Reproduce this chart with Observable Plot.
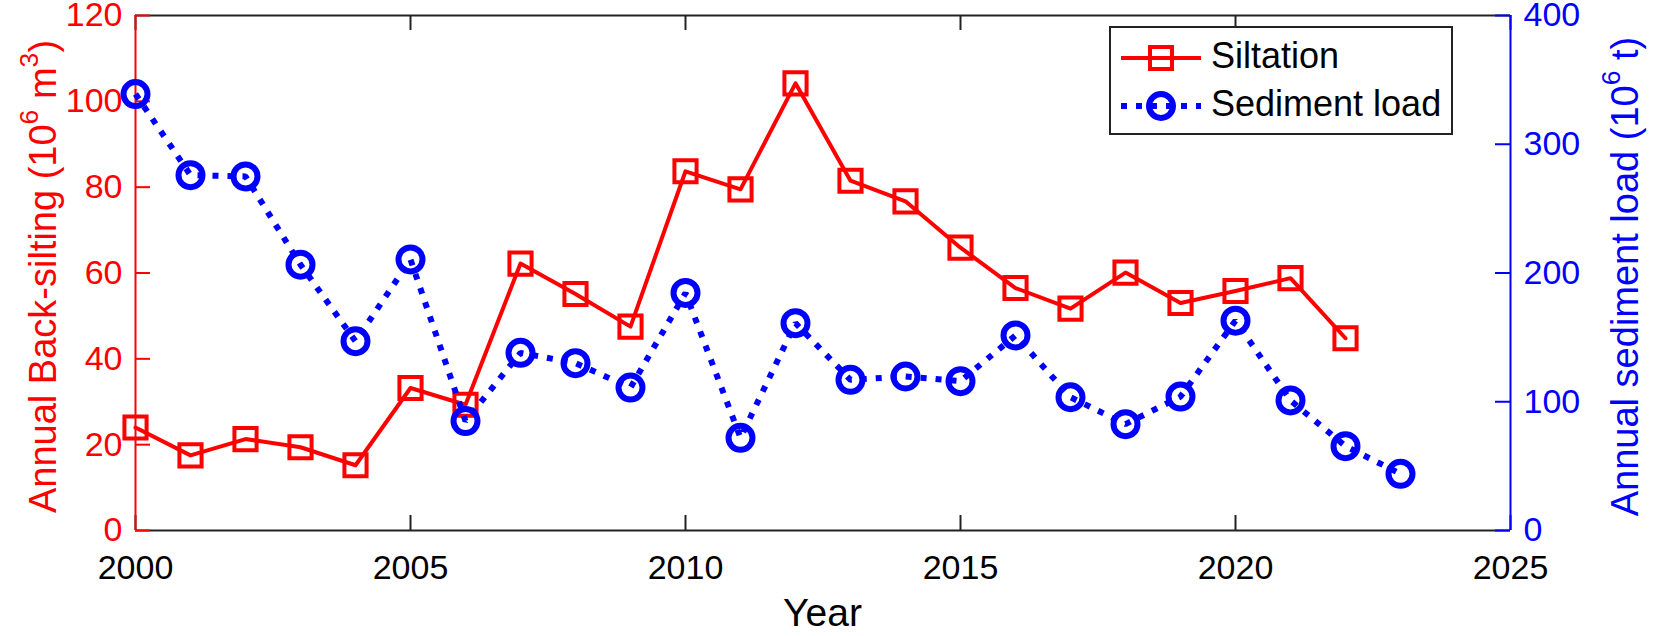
<!DOCTYPE html>
<html>
<head>
<meta charset="utf-8">
<script src="https://cdn.jsdelivr.net/npm/d3@7"></script>
<script src="https://cdn.jsdelivr.net/npm/@observablehq/plot@0.6"></script>
<style>
  html, body { margin: 0; padding: 0; background: #fff; }
  #chart { position: relative; width: 1654px; height: 636px; }
  #chart svg { position: absolute; left: 0; top: 0; }
</style>
</head>
<body>
<div id="chart"></div>
<script>
// ---- data ----
const siltYears = [2000,2001,2002,2003,2004,2005,2006,2007,2008,2009,2010,2011,2012,2013,2014,2015,2016,2017,2018,2019,2020,2021,2022];
const siltation = [24, 17.5, 21.3, 19.4, 15.2, 33.2, 29.3, 62.2, 55.1, 47.5, 83.7, 79.5, 104.2, 81.5, 76.7, 65.9, 56.5, 51.7, 60.1, 53.0, 55.8, 58.8, 44.8];
const sedYears = [2000,2001,2002,2003,2004,2005,2006,2007,2008,2009,2010,2011,2012,2013,2014,2015,2016,2017,2018,2019,2020,2021,2022,2023];
const sediment = [339, 276, 275, 206.5, 147, 210.5, 85, 138, 130, 111, 184.5, 72, 161, 117, 119.6, 116, 151.5, 103.5, 82.6, 104, 163, 101, 65.5, 44];
const xTicks = [2000, 2005, 2010, 2015, 2020, 2025];
const leftTicks = [0, 20, 40, 60, 80, 100, 120];
const rightTicks = [0, 100, 200, 300, 400];
const seriesNames = ["Siltation", "Sediment load"];

const siltData = siltYears.map((year, i) => ({year, value: siltation[i]}));
const sedData = sedYears.map((year, i) => ({year, value: sediment[i]}));

// ---- layout ----
const W = 1654, H = 636;
const mL = 135, mR = 144, mT = 15, mB = 106;
const pW = W - mL - mR, pH = H - mT - mB;
const RED = "#ff0000", BLUE = "#0000ff", BLACK = "#222";
const FONT = "Liberation Sans, Arial, Helvetica, sans-serif";
const FS = 34;      // tick labels
const FS_T = 38;    // axis titles
const FS_L = 36;    // legend
const TICK = 15;
const DASH = "6,9";

const common = {
  width: W, height: H,
  marginLeft: mL, marginRight: mR, marginTop: mT, marginBottom: mB,
  style: {fontFamily: FONT, fontSize: FS + "px", background: "transparent", overflow: "visible"}
};

const p1 = Plot.plot({
  ...common,
  x: {domain: [2000, 2025], axis: null},
  y: {domain: [0, 120], axis: null},
  marks: [
    Plot.ruleY([0, 120], {stroke: BLACK, strokeWidth: 2}),
    Plot.tickX(xTicks, {x: d => d, stroke: BLACK, strokeWidth: 2, insetTop: pH - TICK}),
    Plot.tickX(xTicks, {x: d => d, stroke: BLACK, strokeWidth: 2, insetBottom: pH - TICK}),
    Plot.ruleX([2000], {stroke: RED, strokeWidth: 2}),
    Plot.tickY(leftTicks, {y: d => d, stroke: RED, strokeWidth: 2, insetRight: pW - TICK}),
    Plot.axisX(xTicks, {anchor: "bottom", tickSize: 0, tickPadding: 24, color: "#000", fontSize: FS, label: null, tickFormat: d => String(d)}),
    Plot.axisY(leftTicks, {anchor: "left", tickSize: 0, tickPadding: 13, color: RED, fontSize: FS, label: null}),
    Plot.line(siltData, {x: "year", y: "value", stroke: RED, strokeWidth: 4}),
    Plot.dot(siltData, {x: "year", y: "value", symbol: "square", r: 12.5, stroke: RED, strokeWidth: 4, fill: "none"})
  ]
});

const p2 = Plot.plot({
  ...common,
  x: {domain: [2000, 2025], axis: null},
  y: {domain: [0, 400], axis: null},
  marks: [
    Plot.ruleX([2025], {stroke: BLUE, strokeWidth: 2}),
    Plot.tickY(rightTicks, {y: d => d, stroke: BLUE, strokeWidth: 2, insetLeft: pW - TICK}),
    Plot.axisY(rightTicks, {anchor: "right", tickSize: 0, tickPadding: 13, color: BLUE, fontSize: FS, label: null}),
    Plot.line(sedData, {x: "year", y: "value", stroke: BLUE, strokeWidth: 6, strokeDasharray: DASH, strokeLinecap: "butt", strokeLinejoin: "miter"}),
    Plot.dot(sedData, {x: "year", y: "value", r: 12, stroke: BLUE, strokeWidth: 6, fill: "none"})
  ]
});

const chart = document.getElementById("chart");
chart.appendChild(p1);
chart.appendChild(p2);

// ---- axis titles & legend (overlay) ----
const ov = d3.select(chart).append("svg")
  .attr("width", W).attr("height", H)
  .style("font-family", FONT);

function sup(t, txt) { t.append("tspan").attr("baseline-shift", "super").attr("font-size", "0.7em").text(txt); }

const lt = ov.append("text")
  .attr("transform", `translate(46,${mT + pH / 2 + 4}) rotate(-90)`)
  .attr("text-anchor", "middle").attr("dominant-baseline", "middle")
  .attr("fill", RED).attr("font-size", FS_T);
lt.append("tspan").text("Annual Back-silting (10");
sup(lt, "6");
lt.append("tspan").text(" m");
sup(lt, "3");
lt.append("tspan").text(")");

const rt = ov.append("text")
  .attr("transform", `translate(1628,${mT + pH / 2 + 4}) rotate(-90)`)
  .attr("text-anchor", "middle").attr("dominant-baseline", "middle")
  .attr("fill", BLUE).attr("font-size", FS_T);
rt.append("tspan").text("Annual sediment load (10");
sup(rt, "6");
rt.append("tspan").text(" t)");

ov.append("text")
  .attr("x", mL + pW / 2).attr("y", 626)
  .attr("text-anchor", "middle").attr("fill", "#000").attr("font-size", 39)
  .text("Year");

// legend
const lg = ov.append("g");
lg.append("rect").attr("x", 1110).attr("y", 27).attr("width", 342).attr("height", 107)
  .attr("fill", "#fff").attr("stroke", BLACK).attr("stroke-width", 2);
// entry 1
lg.append("line").attr("x1", 1121).attr("x2", 1201).attr("y1", 58).attr("y2", 58)
  .attr("stroke", RED).attr("stroke-width", 4);
lg.append("rect").attr("x", 1161 - 11).attr("y", 58 - 11).attr("width", 22).attr("height", 22)
  .attr("fill", "none").attr("stroke", RED).attr("stroke-width", 4);
lg.append("text").attr("x", 1211).attr("y", 58).attr("dominant-baseline", "middle")
  .attr("font-size", FS_L).attr("fill", "#000").text(seriesNames[0]);
// entry 2
lg.append("line").attr("x1", 1121).attr("x2", 1201).attr("y1", 106).attr("y2", 106)
  .attr("stroke", BLUE).attr("stroke-width", 6).attr("stroke-dasharray", DASH);
lg.append("circle").attr("cx", 1161).attr("cy", 106).attr("r", 12)
  .attr("fill", "none").attr("stroke", BLUE).attr("stroke-width", 6);
lg.append("text").attr("x", 1211).attr("y", 106).attr("dominant-baseline", "middle")
  .attr("font-size", FS_L).attr("fill", "#000").text(seriesNames[1]);
</script>
</body>
</html>
